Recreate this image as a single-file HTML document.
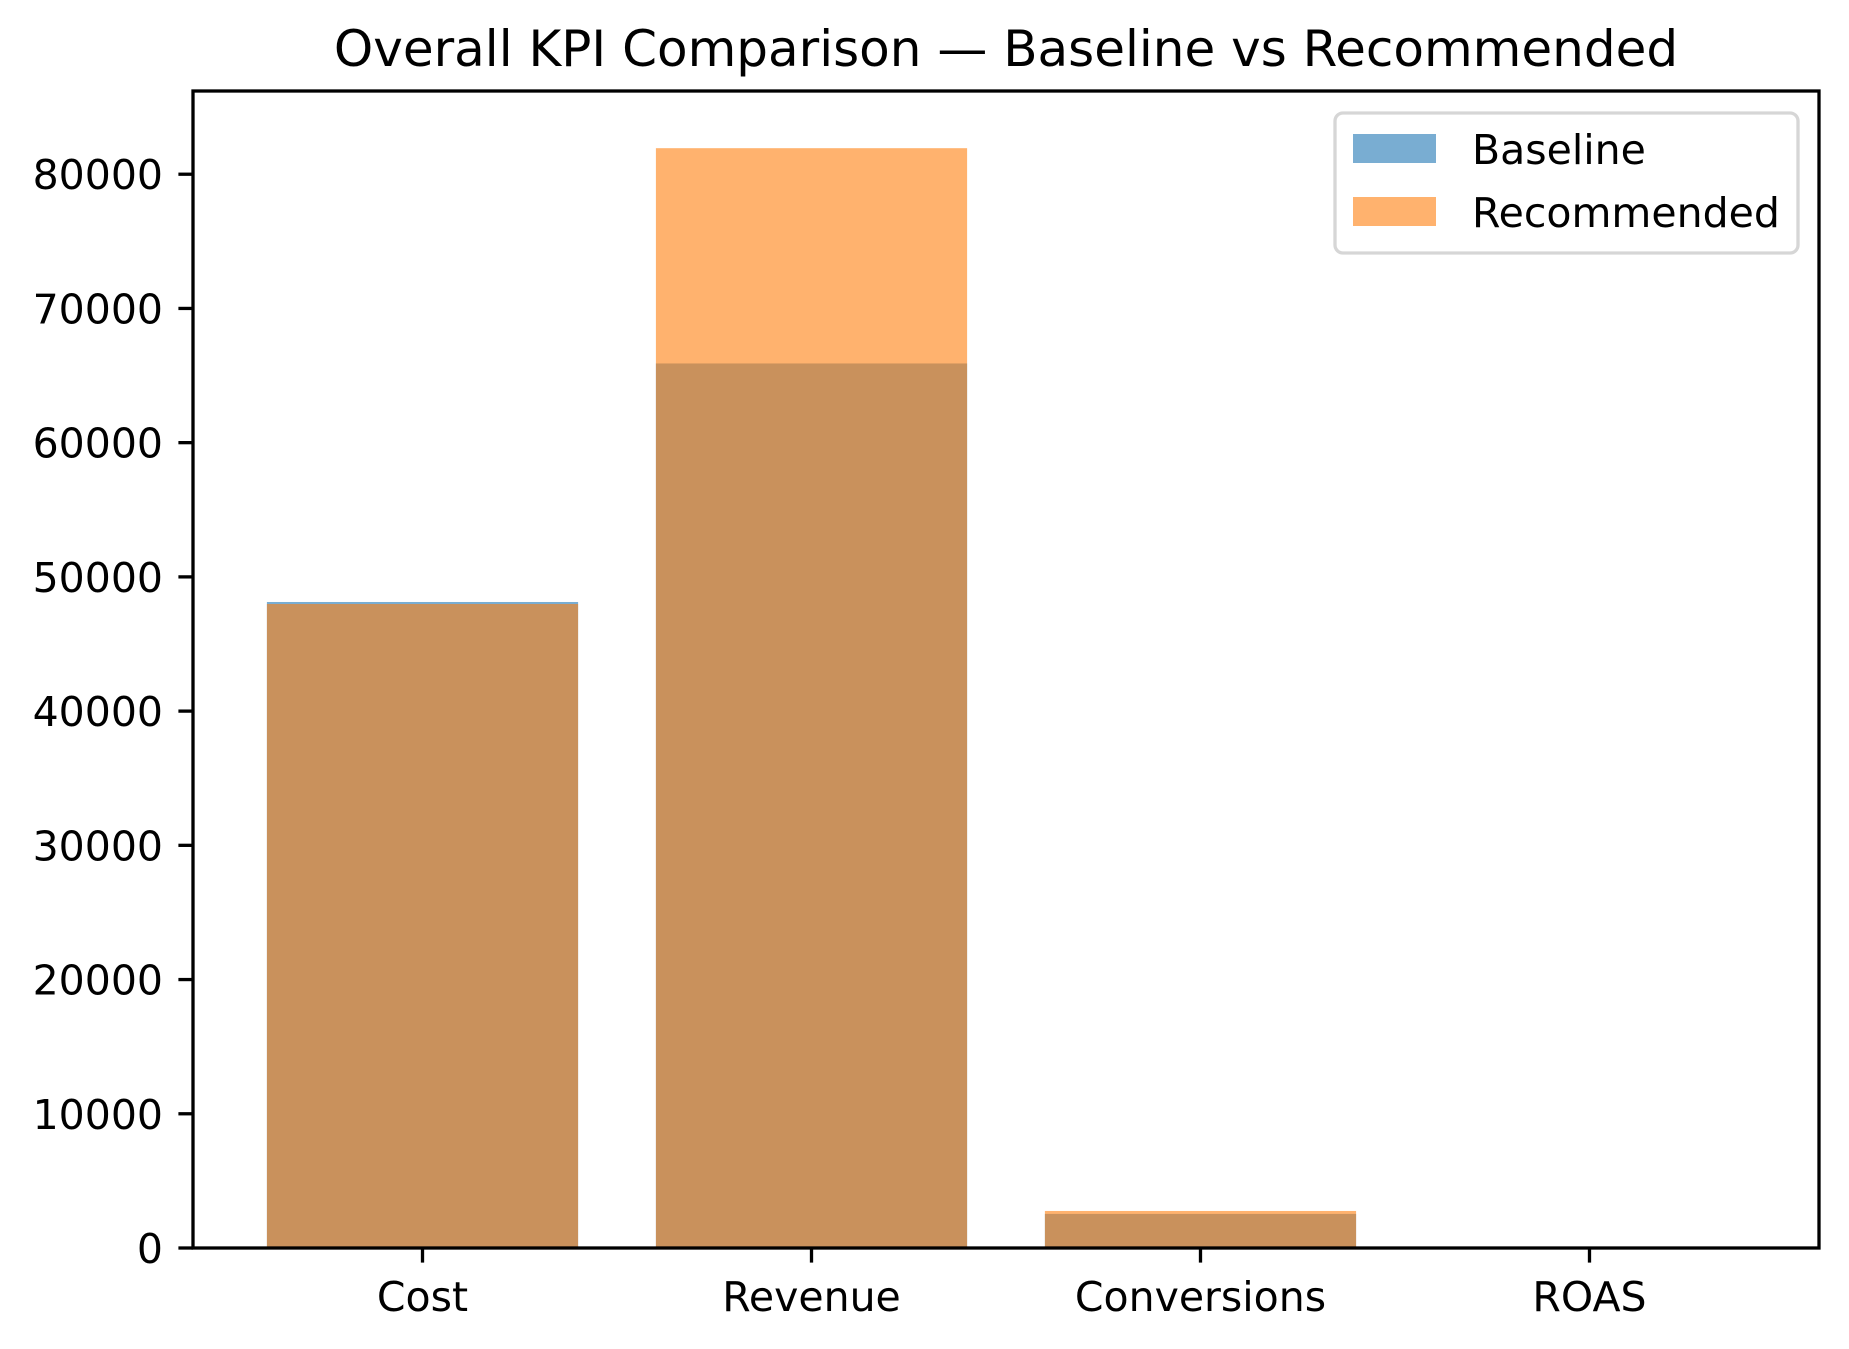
<!DOCTYPE html>
<html><head><meta charset="utf-8"><style>
html,body{margin:0;padding:0;background:#fff;}
svg{display:block;font-family:"DejaVu Sans","Liberation Sans",sans-serif;}
</style></head><body>
<svg id="chart" width="1849" height="1349" viewBox="0 0 1849 1349">
<text x="1006" y="66" font-size="50" text-anchor="middle">Overall KPI Comparison — Baseline vs Recommended</text>
<g id="bars"></g>
<g id="axes"></g>
<g>
<rect x="1335" y="113" width="463" height="140" rx="8" fill="#fff" fill-opacity="0.8" stroke="#d6d6d6" stroke-width="3.3"/>
<rect x="1353" y="134" width="83" height="29" fill="#1f77b4" fill-opacity="0.6"/>
<text x="1472" y="164" font-size="41">Baseline</text>
<rect x="1353" y="197" width="83" height="29" fill="#ff7f0e" fill-opacity="0.6"/>
<text x="1472" y="227" font-size="41">Recommended</text>
</g>
</svg>
<script>
const categories = ["Cost", "Revenue", "Conversions", "ROAS"];
const baselineValues = [48130, 65900, 2540, 1.4];
const recommendedValues = [47980, 81940, 2760, 1.7];
const yTicks = [0, 10000, 20000, 30000, 40000, 50000, 60000, 70000, 80000];
const yTickLabels = ["0", "10000", "20000", "30000", "40000", "50000", "60000", "70000", "80000"];

const NS = "http://www.w3.org/2000/svg";
const L = 193, R = 1819, T = 91, B = 1248;
const yMax = 86200;
const xMin = -0.59, xMax = categories.length - 1 + 0.59;
const barW = 0.8;
function sx(v){ return L + (v - xMin) / (xMax - xMin) * (R - L); }
function sy(v){ return B - v / yMax * (B - T); }
function mk(tag, attrs, parent){ const e = document.createElementNS(NS, tag); for (const k in attrs) e.setAttribute(k, attrs[k]); parent.appendChild(e); return e; }

const bars = document.getElementById("bars");
const axes = document.getElementById("axes");

function drawSeries(vals, color, name){
  vals.forEach((v, i) => {
    const x0 = sx(i - barW/2), x1 = sx(i + barW/2);
    const r = mk("rect", {x: x0, y: sy(v), width: x1 - x0, height: B - sy(v), fill: color, "fill-opacity": 0.6}, bars);
    
    
  });
}
drawSeries(baselineValues, "#1f77b4", "baseline");
drawSeries(recommendedValues, "#ff7f0e", "recommended");

const frame = mk("rect", {x: L, y: T, width: R - L, height: B - T, fill: "none", stroke: "#000", "stroke-width": 3.3}, axes);



yTicks.forEach((v, i) => {
  const y = sy(v);
  const t = mk("line", {x1: L - 14.6, x2: L, y1: y, y2: y, stroke: "#000", "stroke-width": 3.3}, axes);
  
  
  const lb = mk("text", {x: 163, y: y + 15, "font-size": 41, "text-anchor": "end"}, axes);
  lb.textContent = yTickLabels[i];
  
  
});

categories.forEach((c, i) => {
  const x = sx(i);
  const t = mk("line", {x1: x, x2: x, y1: B, y2: B + 14.6, stroke: "#000", "stroke-width": 3.3}, axes);
  
  
  const lb = mk("text", {x: x, y: 1311, "font-size": 41, "text-anchor": "middle"}, axes);
  lb.textContent = c;
  
  
});
</script>
</body></html>
